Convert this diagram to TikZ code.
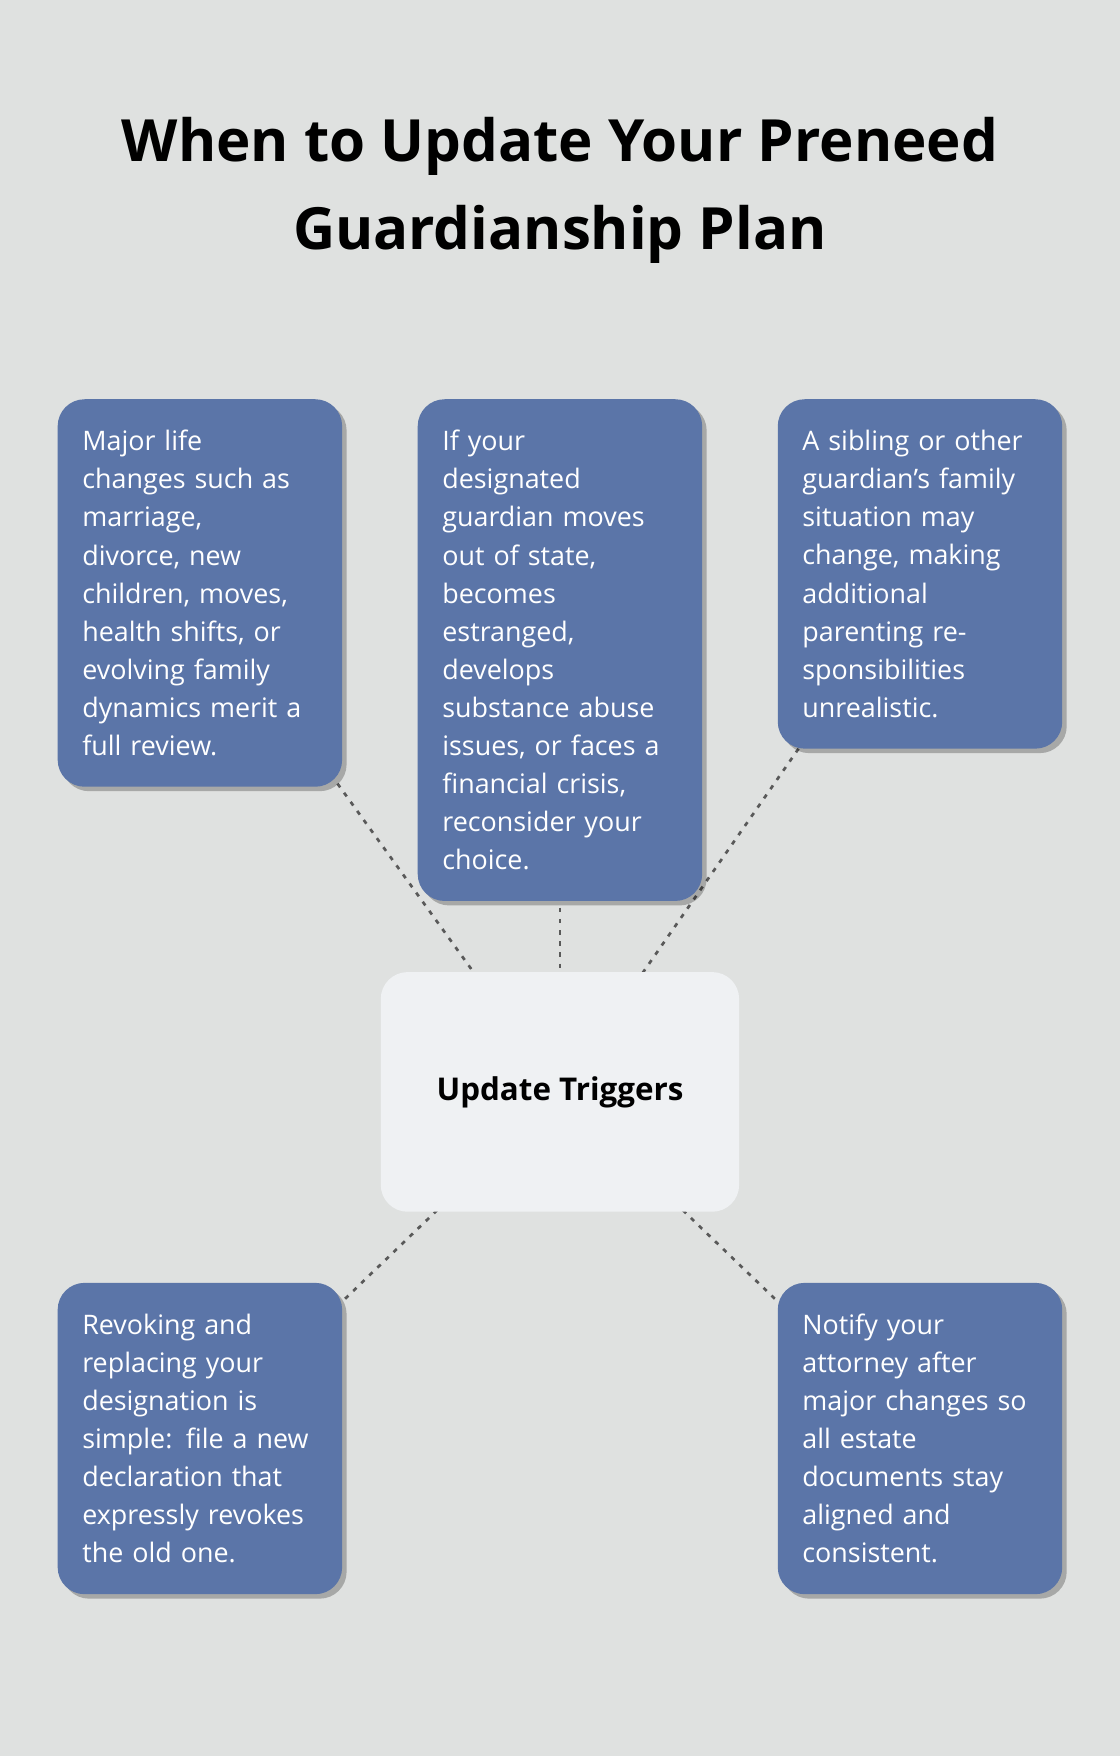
\documentclass[tikz,border=0pt]{standalone}
\usepackage{fontspec}
\setmainfont{Open Sans}
\usetikzlibrary{backgrounds,shadows}
\definecolor{bgc}{HTML}{DFE1E0}
\definecolor{boxc}{HTML}{5B75A8}
\definecolor{hubc}{HTML}{EFF1F3}
\tikzset{
  card/.style={rectangle, rounded corners=12pt, fill=boxc, text=white,
    text width=105pt, align=left, inner xsep=11pt, minimum width=125pt,
    font=\fontsize{12}{17}\selectfont,
    drop shadow={shadow xshift=2pt, shadow yshift=-2pt, opacity=0.25, fill=black}},
  hub/.style={rectangle, rounded corners=12pt, fill=hubc, minimum width=160pt,
    minimum height=107pt, font=\fontsize{14}{17}\selectfont\bfseries},
  link/.style={draw=black!65, line width=1.2pt, dash pattern=on 2pt off 3pt}
}
\begin{document}
\begin{tikzpicture}[x=0.5pt,y=-0.5pt]
\useasboundingbox (0,0) rectangle (1000,1568);
\node[font=\fontsize{26}{39}\selectfont\bfseries, align=center] (title) at (500,170)
  {When to Update Your Preneed\\Guardianship Plan};

\node[card, minimum height=173pt] (life) at (178.5,529.5)
  {Major life\\changes such as\\marriage,\\divorce, new\\children, moves,\\health shifts, or\\evolving family\\dynamics merit a\\full review.};
\node[card, minimum height=224pt] (guard) at (500,580.5)
  {If your\\designated\\guardian moves\\out of state,\\becomes\\estranged,\\develops\\substance abuse\\issues, or faces a\\financial crisis,\\reconsider your\\choice.};
\node[card, minimum height=156pt] (sib) at (821.5,512.5)
  {A sibling or other\\guardian’s family\\situation may\\change, making\\additional\\parenting re-\\sponsibilities\\unrealistic.};
\node[hub] (hubn) at (500,975) {Update Triggers};
\node[card, minimum height=139pt] (revoke) at (178.5,1284.5)
  {Revoking and\\replacing your\\designation is\\simple: file a new\\declaration that\\expressly revokes\\the old one.};
\node[card, minimum height=139pt] (notify) at (821.5,1284.5)
  {Notify your\\attorney after\\major changes so\\all estate\\documents stay\\aligned and\\consistent.};

\begin{pgfonlayer}{background}
\fill[bgc] (0,0) rectangle (1000,1568);
\draw[link] (life.center) -- (hubn.center);
\draw[link] (guard.center) -- (hubn.center);
\draw[link] (sib.center) -- (hubn.center);
\draw[link] (revoke.center) -- (hubn.center);
\draw[link] (notify.center) -- (hubn.center);
\end{pgfonlayer}
\end{tikzpicture}
\end{document}
